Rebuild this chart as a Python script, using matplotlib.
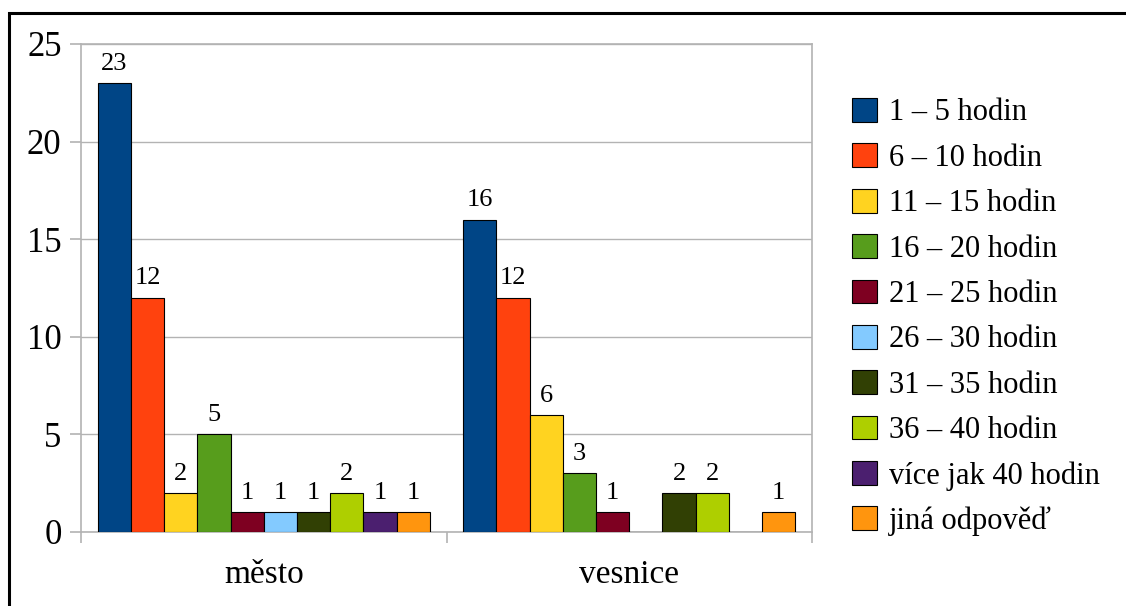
import matplotlib.pyplot as plt
from matplotlib.patches import Rectangle

plt.rcParams['font.family'] = ['Liberation Serif', 'DejaVu Serif']

groups = ["město", "vesnice"]
series = ["1 – 5 hodin", "6 – 10 hodin", "11 – 15 hodin", "16 – 20 hodin",
          "21 – 25 hodin", "26 – 30 hodin", "31 – 35 hodin", "36 – 40 hodin",
          "více jak 40 hodin", "jiná odpověď"]
mesto = [23, 12, 2, 5, 1, 1, 1, 2, 1, 1]
vesnice = [16, 12, 6, 3, 1, 0, 2, 2, 0, 1]
colors = ["#004586", "#ff420e", "#ffd320", "#579d1c", "#7e0021",
          "#83caff", "#314004", "#aecf00", "#4b1f6f", "#ff950e"]

fig = plt.figure(figsize=(11.26, 6.06), dpi=100)
ax = fig.add_axes([81 / 1126, 74 / 606, 731 / 1126, 488 / 606])

n = len(series)
w = 1 / (n + 1)
for i, name in enumerate(series):
    vals = [mesto[i], vesnice[i]]
    xs = [g + (i - (n - 1) / 2) * w for g in range(len(groups))]
    bars = ax.bar(xs, vals, width=w, color=colors[i], edgecolor="black",
                  linewidth=0.8, label=name, zorder=3)
    labels = [str(v) if v else "" for v in vals]
    ax.bar_label(bars, labels=labels, padding=6, fontsize=19)

ax.set_xlim(-0.5, 1.5)
ax.set_ylim(0, 25)
ax.set_yticks(range(0, 26, 5))
ax.yaxis.grid(True, color="#b3b3b3", linewidth=1, zorder=0)
ax.set_xticks([0, 1])
ax.set_xticklabels(groups, fontsize=24)
ax.set_xticks([-0.5, 0.5, 1.5], minor=True)
ax.tick_params(axis="x", which="major", length=0, pad=20)
ax.tick_params(axis="x", which="minor", length=8, color="#b3b3b3", width=1.2)
ax.tick_params(axis="y", length=8, color="#b3b3b3", width=1.2, labelsize=25, pad=6)
for s in ax.spines.values():
    s.set_color("#b3b3b3")
    s.set_linewidth(1.2)

ax.legend(loc="upper left", bbox_to_anchor=(852 / 1126, 1 - 98 / 606),
          bbox_transform=fig.transFigure, frameon=False, fontsize=22,
          handlelength=0.82, handleheight=0.82, handletextpad=0.4,
          labelspacing=0.52, borderaxespad=0, borderpad=0)

# outer frame around the chart
fig.patches.append(Rectangle((9 / 1126, -0.1), 1.2, 1 - 13 / 606 + 0.1,
                             transform=fig.transFigure, fill=False,
                             edgecolor="black", linewidth=2.2))

fig.savefig("out.png", dpi=100)
